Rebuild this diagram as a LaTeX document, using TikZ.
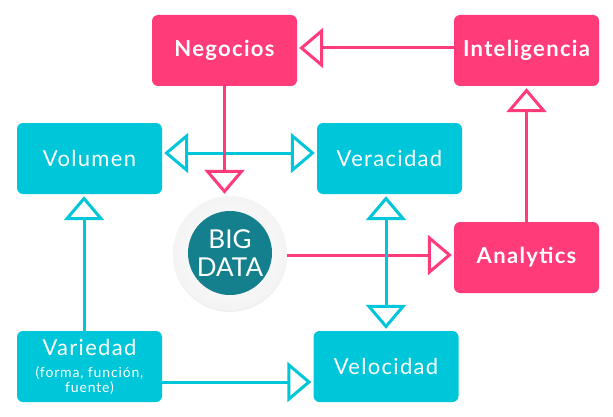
\documentclass[tikz,border=0pt]{standalone}
\usepackage{fontspec}
\setmainfont{Lato}
\newfontfamily\espaciada[LetterSpace=6]{Lato}
\usetikzlibrary{arrows.meta,shadows}
\definecolor{rosa}{RGB}{255,59,122}
\definecolor{cian}{RGB}{0,198,218}
\definecolor{petroleo}{RGB}{20,128,142}
\begin{document}
\begin{tikzpicture}[x=1pt,y=1pt,
    caja/.style={minimum width=145pt,minimum height=71pt,rounded corners=6pt,
      text=white,inner sep=0pt,align=center},
    rosabox/.style={caja,fill=rosa,font=\espaciada\fontsize{22}{24}\selectfont\bfseries},
    cianbox/.style={caja,fill=cian,font=\espaciada\fontsize{22}{24}\selectfont},
    flecha/.style={line width=3pt,shorten >=2pt,-{Triangle[open,fill=white,length=24pt,width=40pt]}},
    doble/.style={line width=3pt,shorten >=2pt,shorten <=2pt,
      {Triangle[open,fill=white,length=24pt,width=40pt]}-{Triangle[open,fill=white,length=24pt,width=40pt]}}]
  \useasboundingbox (0,0) rectangle (613,416);
  \node[rosabox] (negocios) at (224.5,365.5) {Negocios};
  \node[rosabox] (inteligencia) at (526.5,365.5) {Inteligencia};
  \node[cianbox] (volumen) at (89.5,257.5) {Volumen};
  \node[cianbox] (veracidad) at (389.5,257.5) {Veracidad};
  \node[rosabox] (analytics) at (526.5,158.5) {Analytics};
  \node[cianbox] (variedad) at (89.5,49.5)
    {Variedad\\[-2pt]\fontsize{14}{15}\selectfont (forma, función,\\[-9pt]\fontsize{14}{15}\selectfont fuente)};
  \node[cianbox] (velocidad) at (386,49.5) {Velocidad};
  \node[circle,minimum size=114pt,inner color=white,outer color=gray!9,
    drop shadow={opacity=0.12,shadow xshift=0pt,shadow yshift=-2pt}] (bigdata) at (230,163) {};
  \node[circle,minimum size=84pt,inner sep=0pt,fill=petroleo,text=white,align=center,
    font=\fontsize{26}{28}\selectfont] (nucleo) at (bigdata) {BIG\\DATA};
  % conectores
  \draw[cian,doble] ([yshift=5.5pt]volumen.east) -- ([yshift=5.5pt]veracidad.west);
  \draw[rosa,flecha] (negocios.south) -- (negocios.south |- bigdata.north);
  \draw[rosa,flecha] ([yshift=-2pt]bigdata.east) -- ([yshift=-2pt]analytics.west |- bigdata.east);
  \draw[cian,doble] (velocidad.north) -- (velocidad.north |- veracidad.south);
  \draw[rosa,flecha] (analytics.north) -- (inteligencia.south);
  \draw[rosa,flecha] ([yshift=2.5pt]inteligencia.west) -- ([yshift=2.5pt]negocios.east);
  \draw[cian,flecha] ([xshift=-5.5pt]variedad.north) -- ([xshift=-5.5pt]volumen.south);
  \draw[cian,flecha] ([yshift=-15.5pt]variedad.east) -- ([yshift=-15.5pt]velocidad.west);
\end{tikzpicture}
\end{document}
